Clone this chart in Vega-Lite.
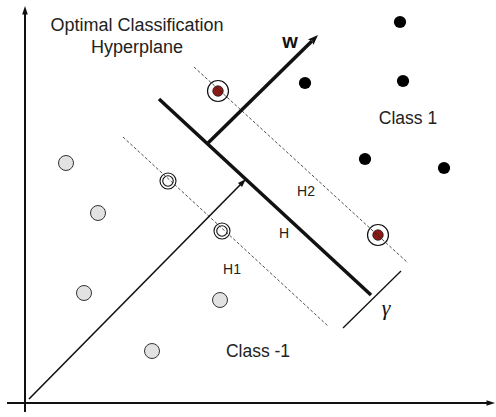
{
  "$schema": "https://vega.github.io/schema/vega-lite/v6.json",
  "width": 496,
  "height": 417,
  "autosize": {"type": "fit", "contains": "padding"},
  "padding": 0,
  "background": "white",
  "config": {"view": {"stroke": null}},
  "datasets": {
    "lines": [
      {"kind": "axis", "x": 25, "y": 412, "x2": 25, "y2": 12},
      {"kind": "axis", "x": 7, "y": 403, "x2": 488, "y2": 403},
      {"kind": "vector", "x": 29, "y": 399, "x2": 241, "y2": 184},
      {"kind": "hyper", "x": 159, "y": 99, "x2": 371, "y2": 295},
      {"kind": "hyper", "x": 208, "y": 143, "x2": 312, "y2": 41},
      {"kind": "margin", "x": 194, "y": 67, "x2": 408, "y2": 263},
      {"kind": "margin", "x": 123, "y": 137, "x2": 328, "y2": 326},
      {"kind": "gamma", "x": 343, "y": 328, "x2": 401, "y2": 271}
    ],
    "heads": [
      {"x": 25, "y": 6, "angle": 0, "kind": "axis"},
      {"x": 495, "y": 403, "angle": 90, "kind": "axis"},
      {"x": 246, "y": 179, "angle": 45, "kind": "vector"},
      {"x": 318, "y": 35, "angle": 45, "kind": "w"}
    ],
    "points": [
      {"cls": "neg", "x": 66, "y": 163},
      {"cls": "neg", "x": 98, "y": 213},
      {"cls": "neg", "x": 84, "y": 293},
      {"cls": "neg", "x": 220, "y": 300},
      {"cls": "neg", "x": 152, "y": 351},
      {"cls": "pos", "x": 400, "y": 22},
      {"cls": "pos", "x": 305, "y": 83},
      {"cls": "pos", "x": 403, "y": 81},
      {"cls": "pos", "x": 365, "y": 159},
      {"cls": "pos", "x": 444, "y": 168},
      {"cls": "svpos", "x": 218, "y": 91},
      {"cls": "svpos", "x": 378, "y": 235},
      {"cls": "svneg", "x": 168, "y": 181},
      {"cls": "svneg", "x": 222, "y": 231}
    ],
    "labels": [
      {"kind": "title", "x": 137, "y": 26, "text": "Optimal Classification"},
      {"kind": "title", "x": 137, "y": 48, "text": "Hyperplane"},
      {"kind": "cls", "x": 408, "y": 119, "text": "Class 1"},
      {"kind": "cls", "x": 258, "y": 352, "text": "Class -1"},
      {"kind": "small", "x": 306, "y": 192, "text": "H2"},
      {"kind": "small", "x": 284, "y": 234, "text": "H"},
      {"kind": "small", "x": 232, "y": 270, "text": "H1"},
      {"kind": "w", "x": 290, "y": 42, "text": "w"},
      {"kind": "gamma", "x": 386, "y": 308, "text": "γ"}
    ]
  },
  "encoding": {
    "x": {"field": "x", "type": "quantitative", "scale": {"domain": [0, 496], "nice": false, "zero": false}, "axis": null},
    "y": {"field": "y", "type": "quantitative", "scale": {"domain": [0, 417], "nice": false, "zero": false, "reverse": true}, "axis": null}
  },
  "layer": [
    {
      "data": {"name": "points"},
      "transform": [{"filter": "datum.cls === 'neg'"}],
      "mark": {"type": "point", "shape": "circle", "filled": true, "size": 225, "fill": "#e2e2e2", "stroke": "#333333", "strokeWidth": 1, "opacity": 1}
    },
    {
      "data": {"name": "points"},
      "transform": [{"filter": "datum.cls === 'pos'"}],
      "mark": {"type": "point", "shape": "circle", "filled": true, "size": 150, "fill": "#000000", "opacity": 1}
    },
    {
      "data": {"name": "points"},
      "transform": [{"filter": "datum.cls === 'svpos'"}],
      "mark": {"type": "point", "shape": "circle", "filled": true, "size": 440, "fill": "white", "stroke": "#111111", "strokeWidth": 1.2, "opacity": 1}
    },
    {
      "data": {"name": "points"},
      "transform": [{"filter": "datum.cls === 'svpos'"}],
      "mark": {"type": "point", "shape": "circle", "filled": true, "size": 110, "fill": "#8b1a14", "stroke": "#222222", "strokeWidth": 0.8, "opacity": 1}
    },
    {
      "data": {"name": "points"},
      "transform": [{"filter": "datum.cls === 'svneg'"}],
      "mark": {"type": "point", "shape": "circle", "filled": true, "size": 256, "fill": "white", "stroke": "#111111", "strokeWidth": 1.1, "opacity": 1}
    },
    {
      "data": {"name": "points"},
      "transform": [{"filter": "datum.cls === 'svneg'"}],
      "mark": {"type": "point", "shape": "circle", "filled": true, "size": 110, "fill": "white", "stroke": "#111111", "strokeWidth": 1.1, "opacity": 1}
    },
    {
      "data": {"name": "lines"},
      "transform": [{"filter": "datum.kind === 'margin'"}],
      "mark": {"type": "rule", "stroke": "#222222", "strokeWidth": 0.8, "strokeDash": [3, 2]},
      "encoding": {"x2": {"field": "x2"}, "y2": {"field": "y2"}}
    },
    {
      "data": {"name": "lines"},
      "transform": [{"filter": "datum.kind === 'axis'"}],
      "mark": {"type": "rule", "stroke": "#111111", "strokeWidth": 2},
      "encoding": {"x2": {"field": "x2"}, "y2": {"field": "y2"}}
    },
    {
      "data": {"name": "lines"},
      "transform": [{"filter": "datum.kind === 'vector'"}],
      "mark": {"type": "rule", "stroke": "#111111", "strokeWidth": 1.6},
      "encoding": {"x2": {"field": "x2"}, "y2": {"field": "y2"}}
    },
    {
      "data": {"name": "lines"},
      "transform": [{"filter": "datum.kind === 'hyper'"}],
      "mark": {"type": "rule", "stroke": "#111111", "strokeWidth": 3.5},
      "encoding": {"x2": {"field": "x2"}, "y2": {"field": "y2"}}
    },
    {
      "data": {"name": "lines"},
      "transform": [{"filter": "datum.kind === 'gamma'"}],
      "mark": {"type": "rule", "stroke": "#111111", "strokeWidth": 1.3},
      "encoding": {"x2": {"field": "x2"}, "y2": {"field": "y2"}}
    },
    {
      "data": {"name": "heads"},
      "transform": [{"filter": "datum.kind !== 'w'"}],
      "mark": {"type": "point", "shape": "M0,0L-0.4,1.2L0.4,1.2Z", "filled": true, "size": 200, "fill": "#111111", "opacity": 1},
      "encoding": {"angle": {"field": "angle", "type": "quantitative", "scale": null}}
    },
    {
      "data": {"name": "heads"},
      "transform": [{"filter": "datum.kind === 'w'"}],
      "mark": {"type": "point", "shape": "M0,0L-0.45,1.2L0,0.95L0.45,1.2Z", "filled": true, "size": 300, "fill": "#111111", "opacity": 1},
      "encoding": {"angle": {"field": "angle", "type": "quantitative", "scale": null}}
    },
    {
      "data": {"name": "labels"},
      "transform": [{"filter": "datum.kind === 'title'"}],
      "mark": {"type": "text", "font": "Liberation Sans", "fontSize": 18, "fill": "#222222", "align": "center", "baseline": "middle"},
      "encoding": {"text": {"field": "text"}}
    },
    {
      "data": {"name": "labels"},
      "transform": [{"filter": "datum.kind === 'cls'"}],
      "mark": {"type": "text", "font": "Liberation Sans", "fontSize": 17.5, "fill": "#222222", "align": "center", "baseline": "middle"},
      "encoding": {"text": {"field": "text"}}
    },
    {
      "data": {"name": "labels"},
      "transform": [{"filter": "datum.kind === 'small'"}],
      "mark": {"type": "text", "font": "Liberation Sans", "fontSize": 14, "fill": "#222222", "align": "center", "baseline": "middle"},
      "encoding": {"text": {"field": "text"}}
    },
    {
      "data": {"name": "labels"},
      "transform": [{"filter": "datum.kind === 'w'"}],
      "mark": {"type": "text", "font": "Liberation Sans", "fontSize": 20, "fontWeight": "bold", "fill": "#111111", "align": "center", "baseline": "middle"},
      "encoding": {"text": {"field": "text"}}
    },
    {
      "data": {"name": "labels"},
      "transform": [{"filter": "datum.kind === 'gamma'"}],
      "mark": {"type": "text", "font": "Liberation Serif", "fontSize": 22, "fontStyle": "italic", "fill": "#111111", "align": "center", "baseline": "middle"},
      "encoding": {"text": {"field": "text"}}
    }
  ]
}
